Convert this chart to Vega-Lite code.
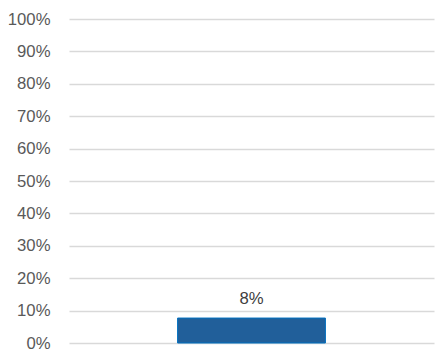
{
  "$schema": "https://vega.github.io/schema/vega-lite/v6.json",
  "autosize": "none",
  "width": 365,
  "height": 324,
  "padding": {"left": 69, "top": 19, "right": 9, "bottom": 13},
  "background": "white",
  "config": {"view": {"stroke": null}},
  "data": {"values": [{"category": "A", "value": 0.077, "label": "8%"}]},
  "encoding": {
    "x": {"field": "category", "type": "nominal", "axis": null, "scale": {"paddingInner": 0, "paddingOuter": 0}},
    "y": {
      "field": "value", "type": "quantitative",
      "scale": {"domain": [0, 1], "nice": false},
      "axis": {
        "title": null, "format": ".0%", "values": [0,0.1,0.2,0.3,0.4,0.5,0.6,0.7,0.8,0.9,1],
        "domain": false, "ticks": false, "labelPadding": 19,
        "labelFont": "Liberation Sans", "labelFontSize": 16.7, "labelColor": "#595959",
        "gridColor": "#d9d9d9", "gridWidth": 1.3
      }
    }
  },
  "layer": [
    {"mark": {"type": "bar", "width": {"band": 0.405}, "fill": "#215F9A", "stroke": "#0070C0", "strokeWidth": 1}},
    {"mark": {"type": "text", "baseline": "bottom", "dy": -10, "font": "Liberation Sans", "fontSize": 16.7, "color": "#404040"},
     "encoding": {"text": {"field": "label"}}}
  ]
}
